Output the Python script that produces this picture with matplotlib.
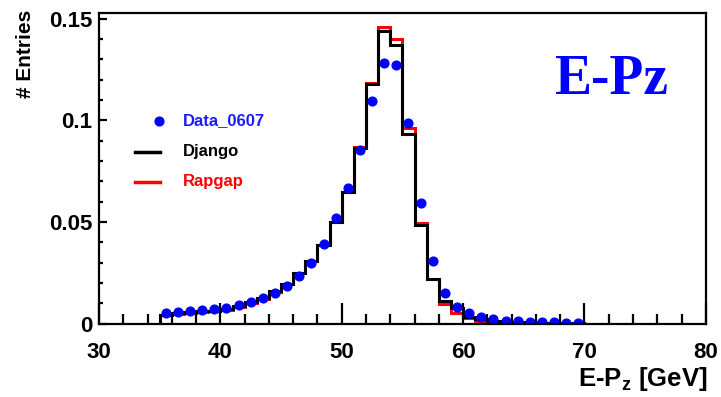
import numpy as np
import matplotlib
matplotlib.use("Agg")
import matplotlib.pyplot as plt
from matplotlib.ticker import MultipleLocator, FixedLocator, FixedFormatter

plt.rcParams['font.family'] = ['Liberation Sans', 'DejaVu Sans']

# bin edges of the E-Pz histogram (GeV)
edges = np.arange(35, 71, 1)
centers = edges[:-1] + 0.5

django = [0.0044, 0.0050, 0.0055, 0.0060, 0.0064, 0.0071, 0.0087, 0.0104, 0.0126, 0.0158,
          0.0195, 0.0249, 0.0308, 0.0388, 0.0499, 0.0646, 0.0866, 0.1180, 0.1438, 0.1373,
          0.0932, 0.0483, 0.0218, 0.0110, 0.0079, 0.0033, 0.0020, 0.0012, 0.0009, 0.0007,
          0.0006, 0.0005, 0.0004, 0.0004, 0.0003]
rapgap = [0.0040, 0.0045, 0.0050, 0.0055, 0.0060, 0.0067, 0.0083, 0.0100, 0.0122, 0.0155,
          0.0193, 0.0247, 0.0307, 0.0388, 0.0500, 0.0648, 0.0870, 0.1185, 0.1458, 0.1402,
          0.0961, 0.0497, 0.0218, 0.0096, 0.0050, 0.0028, 0.0015, 0.0010, 0.0008, 0.0006,
          0.0005, 0.0004, 0.0004, 0.0003, 0.0003]
data = [0.0050, 0.0057, 0.0060, 0.0065, 0.0072, 0.0078, 0.0093, 0.0107, 0.0124, 0.0150,
        0.0186, 0.0235, 0.0297, 0.0390, 0.0518, 0.0668, 0.0856, 0.1095, 0.1280, 0.1274,
        0.0987, 0.0594, 0.0306, 0.0148, 0.0082, 0.0050, 0.0033, 0.0022, 0.0015, 0.0011,
        0.0008, 0.0007, 0.0006, 0.0005, 0.0004]

yticks = [0, 0.05, 0.1, 0.15]
ytick_labels = ["0", "0.05", "0.1", "0.15"]

fig = plt.figure(figsize=(7.21, 3.97), dpi=100)
ax = fig.add_axes([0.1373, 0.185, 0.8417, 0.782])

ax.stairs(rapgap, edges, color='#ff0000', lw=2.2, baseline=0)
ax.stairs(django, edges, color='black', lw=2.2, baseline=0)
ax.plot(centers, data, 'o', color='#0000ff', ms=6.3, ls='none')

ax.set_xlim(30, 80)
ax.set_ylim(0, 0.1528)

for s in ['top', 'right', 'left', 'bottom']:
    ax.spines[s].set_linewidth(1.6)

ax.xaxis.set_major_locator(MultipleLocator(10))
ax.xaxis.set_minor_locator(MultipleLocator(2))
ax.yaxis.set_major_locator(FixedLocator(yticks))
ax.yaxis.set_major_formatter(FixedFormatter(ytick_labels))
ax.yaxis.set_minor_locator(MultipleLocator(0.01))
ax.tick_params(axis='x', which='major', direction='in', length=15, width=1.6,
               labelsize=16, pad=13)
ax.tick_params(axis='x', which='minor', direction='in', length=7.5, width=1.6)
ax.tick_params(axis='y', which='major', direction='in', length=5.5, width=1.6,
               labelsize=16, pad=5)
ax.tick_params(axis='y', which='minor', direction='in', length=3, width=1.6)
for lab in ax.get_xticklabels() + ax.get_yticklabels():
    lab.set_fontweight('bold')

fig.text(0.981, 0.045, "E-P$_\\mathregular{z}$ [GeV]", ha='right', va='center',
         fontsize=18.5, fontweight='bold')
fig.text(0.035, 0.975, "# Entries", rotation=90, ha='center', va='top',
         fontsize=15, fontweight='bold')

ax.text(0.844, 0.785, "E-Pz", transform=ax.transAxes, ha='center', va='center',
        fontsize=40, fontweight='bold', family='Liberation Serif', color='#0000ff')

# legend drawn by hand, ROOT style
ax.plot([0.0988], [0.653], 'o', color='#0000ff', ms=6.3, transform=ax.transAxes)
ax.plot([0.0593, 0.1005], [0.553, 0.553], color='black', lw=2.5, transform=ax.transAxes)
ax.plot([0.0593, 0.1005], [0.457, 0.457], color='#ff0000', lw=2.5, transform=ax.transAxes)
ax.text(0.138, 0.653, "Data_0607", transform=ax.transAxes, va='center', fontsize=12,
        fontweight='bold', color='#1a1aff')
ax.text(0.138, 0.553, "Django", transform=ax.transAxes, va='center', fontsize=12,
        fontweight='bold', color='black')
ax.text(0.138, 0.457, "Rapgap", transform=ax.transAxes, va='center', fontsize=12,
        fontweight='bold', color='#ff0000')

fig.savefig("out.png", dpi=100)
